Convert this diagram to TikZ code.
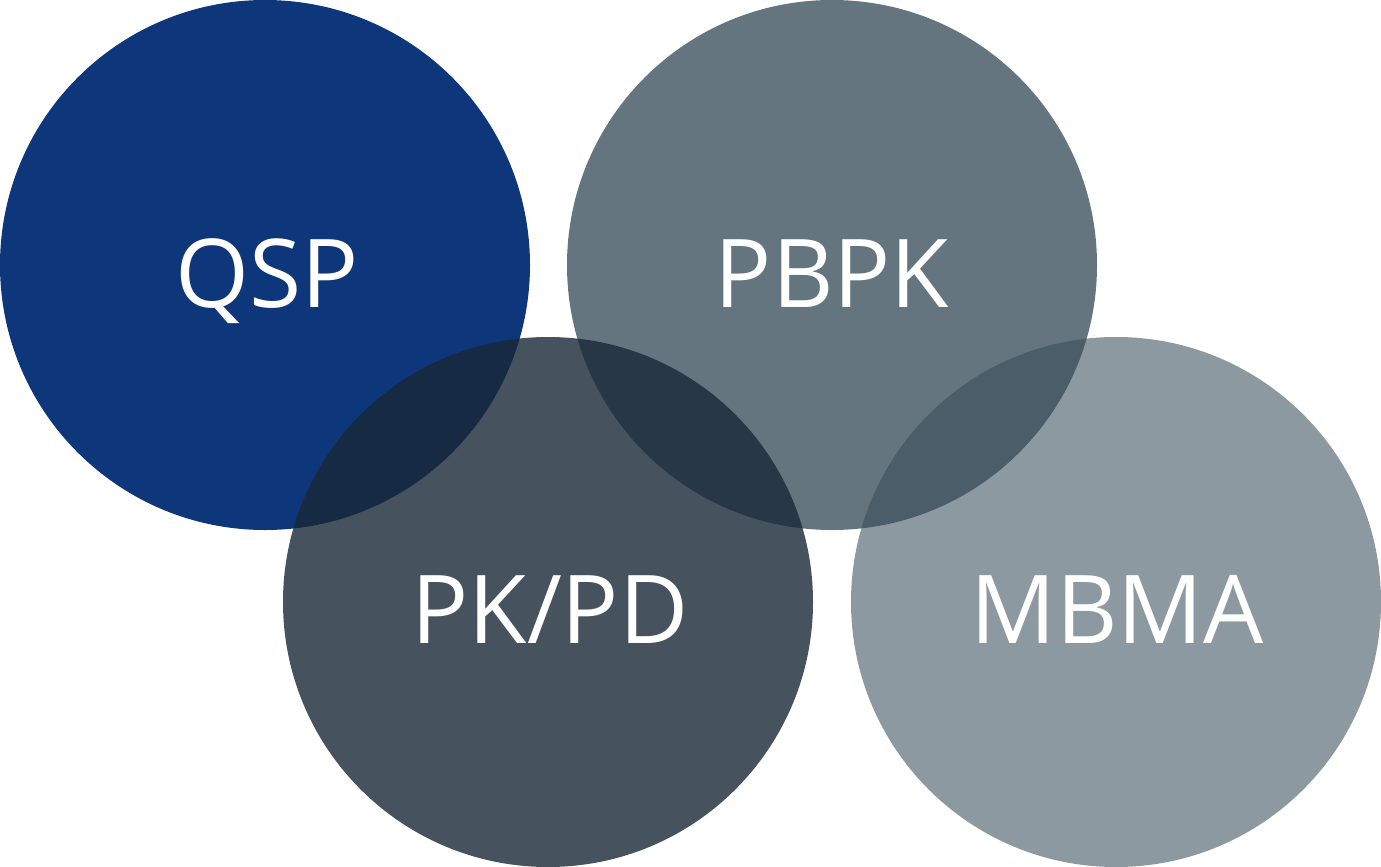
\documentclass[tikz,border=0pt]{standalone}
\usepackage{fontspec}
\setmainfont{Open Sans}
\definecolor{qspc}{RGB}{14,54,122}
\definecolor{pbpkc}{RGB}{100,117,127}
\definecolor{pkpdc}{RGB}{24,40,55}
\definecolor{mbmac}{RGB}{55,76,90}
\tikzset{
  bubble/.style={circle, minimum size=530pt, inner sep=0pt, draw=none},
  lbl/.style={text=white, anchor=base, inner sep=0pt, font=\fontsize{95}{100}\selectfont}
}
\begin{document}
\begin{tikzpicture}[x=1pt,y=-1pt]
\useasboundingbox (0,0) rectangle (1381,867);
\node[bubble, fill=qspc] (qsp) at (265,265) {};
\node[bubble, fill=pbpkc] (pbpk) at (832,265) {};
\node[bubble, fill=pkpdc, fill opacity=0.8] (pkpd) at (548,602) {};
\node[bubble, fill=mbmac, fill opacity=0.57] (mbma) at (1116,602) {};
\node[lbl] (tqsp) at (267,307) {QSP};
\node[lbl] (tpbpk) at (832,307) {PBPK};
\node[lbl] (tpkpd) at (550,643) {PK/PD};
\node[lbl] (tmbma) at (1117,643) {MBMA};
\end{tikzpicture}
\end{document}
